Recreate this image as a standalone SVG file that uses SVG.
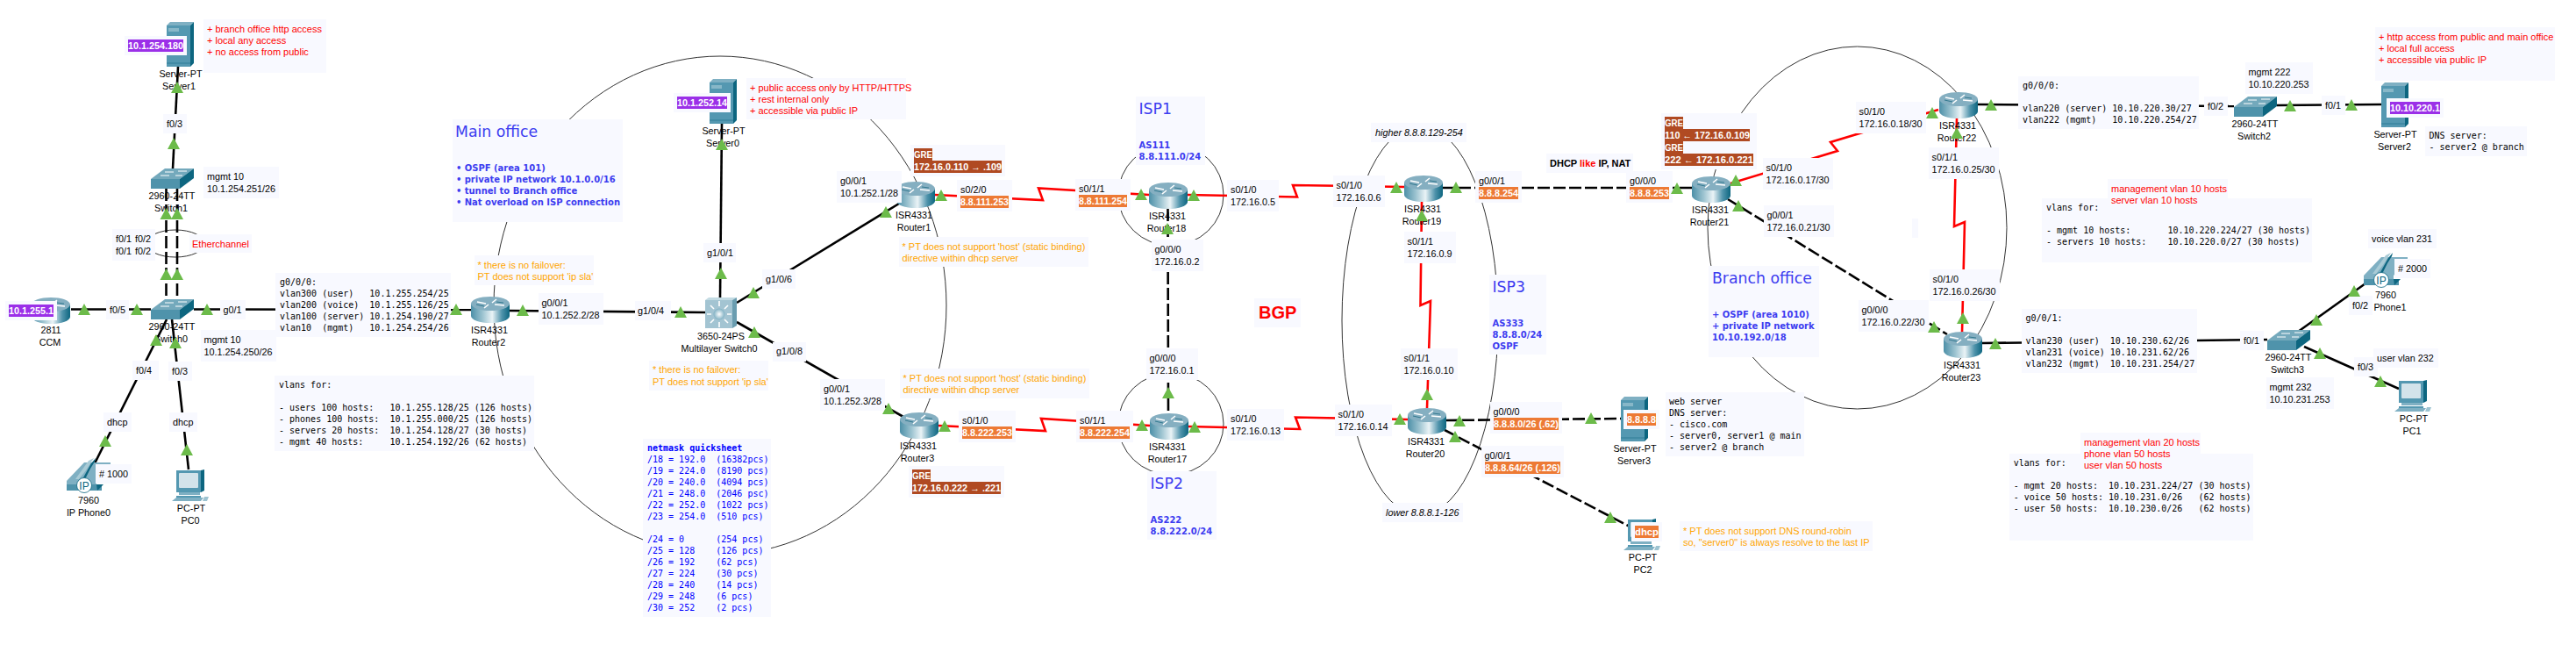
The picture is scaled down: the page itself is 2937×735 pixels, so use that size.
<svg xmlns="http://www.w3.org/2000/svg" width="2937" height="735" viewBox="0 0 2937 735">
<style>
text{white-space:pre}
.b{fill:#f8f9ff}
.l{font:10.8px "Liberation Sans",Arial,sans-serif;fill:#000}
.c{font:10.8px "Liberation Sans",Arial,sans-serif;fill:#000;text-anchor:middle}
.i{font:italic 10.8px "Liberation Sans",Arial,sans-serif;fill:#000}
.r{font:11px "Liberation Sans",Arial,sans-serif;fill:#f00}
.o{font:11px "Liberation Sans",Arial,sans-serif;fill:#ffa500}
.m{font:10px "DejaVu Sans Mono",monospace;fill:#000}
.n{font:10px "DejaVu Sans Mono",monospace;fill:#00f}
.nb{font:bold 10px "DejaVu Sans Mono",monospace;fill:#00f}
.w{font:bold 11px "Liberation Sans",Arial,sans-serif;fill:#fff}
.t{font:17.3px "DejaVu Sans",sans-serif;fill:#3c3cf0}
.s{font:bold 10px "DejaVu Sans",sans-serif;fill:#3c3cf0}
.d{font:bold 11px "Liberation Sans",Arial,sans-serif;fill:#000}
.hp{fill:#9b30e8}.ho{fill:#ed7a35}.hb{fill:#b04a22}
.k{fill:none;stroke:#000;stroke-width:2.6}
.kd{fill:none;stroke:#000;stroke-width:2.6;stroke-dasharray:14 4}
.sr{fill:none;stroke:#f00;stroke-width:2.6}
.e{fill:none;stroke:#333;stroke-width:1}
</style>
<defs>
<linearGradient id="cyl" x1="0" x2="1" y1="0" y2="0"><stop offset="0" stop-color="#4d90a8"/><stop offset=".3" stop-color="#9cc3d0"/><stop offset=".55" stop-color="#eaf3f6"/><stop offset=".8" stop-color="#4f93ab"/><stop offset="1" stop-color="#0d6680"/></linearGradient>
<radialGradient id="orb"><stop offset="0" stop-color="#fff"/><stop offset="1" stop-color="#7fb0c3"/></radialGradient>
<polygon id="tri" points="0,0 -7,13 7,13" fill="#6cbb4a"/>
<g id="router">
<path d="M0 8V22A22 8 0 0 0 44 22V8Z" fill="url(#cyl)"/>
<ellipse cx="22" cy="8" rx="22" ry="8" fill="#85afc1"/>
<path d="M7 6L17 8M27 9L38 10M15 13L20 9M24 7L29 3" fill="none" stroke="#fff" stroke-width="1.6"/>
<path d="M6 9L15 11M29 6L37 7" fill="none" stroke="#1d6a82" stroke-width=".8"/>
</g>
<g id="switch">
<polygon points="0,12 16,0 49,0 33,12" fill="#74a9bc"/>
<rect x="0" y="12" width="33" height="11" fill="#4f93ab"/>
<polygon points="33,12 49,0 49,11 33,23" fill="#0d6680"/>
<path d="M16 4H26M31 3H41M11 8H21M28 8H36" stroke="#fff" stroke-width="1"/>
</g>
<g id="server">
<polygon points="0,4 4,0 31,0 27,4" fill="#7fb0c3"/>
<rect x="0" y="4" width="27" height="47" fill="#5498b1"/>
<polygon points="27,4 31,0 31,47 27,51" fill="#0d6680"/>
<rect x="2" y="7" width="12" height="4" fill="#87b7c8"/>
<path d="M0 47H27" stroke="#2f7d97" stroke-width="1"/>
</g>
<g id="pc">
<rect x="5" y="1" width="28" height="25" fill="#5498b1"/>
<polygon points="33,1 37,0 37,24 33,26" fill="#0d6680"/>
<rect x="8" y="4" width="22" height="17" rx="1" fill="#d3e3ea"/>
<rect x="8" y="26" width="24" height="3" fill="#7fb0c3"/>
<polygon points="5,30 33,30 33,32 5,32" fill="#5498b1"/>
<polygon points="0,36 5,32 36,32 33,36" fill="#7fb0c3"/>
<path d="M36 36L39 30H44" fill="none" stroke="#fff" stroke-width="1"/>
<polygon points="35,36 37,31 42,31 40,36" fill="#9dc3d1"/>
</g>
<g id="phone">
<polygon points="0,26 20,5 50,5 50,9 34,26 34,37 0,37" fill="#7fb0c3"/>
<polygon points="18,24 28,6 33,0 32,4 27,12 21,24" fill="#0d6680"/>
<polygon points="10,24 25,3 31,0 22,14 14,24" fill="#a9cbd6"/>
<rect x="0" y="30" width="40" height="7" fill="#4f93ab"/>
<polygon points="35,37 42,30 34,30" fill="#0d6680"/>
<circle cx="20" cy="31" r="8.500" fill="#fff" stroke="#0d6680" stroke-width=".8"/>
<text x="20" y="36" font-family="Liberation Sans,sans-serif" font-size="12" text-anchor="middle" fill="#0d6680">IP</text>
</g>
<g id="mls">
<polygon points="0,3 4,0 36,0 31,3" fill="#c3dbe3"/>
<rect x="0" y="3" width="31" height="32" fill="#a3c4d2"/>
<polygon points="31,3 36,0 36,32 31,35" fill="#6a9db0"/>
<circle cx="16" cy="19" r="6.500" fill="url(#orb)"/>
<path d="M16 10V4M16 28V34M7 19H2M25 19H30M10 13L6 9M22 13L26 9M10 25L6 29M22 25L26 29" stroke="#fff" stroke-width="1.6"/>
</g>
</defs>
<rect width="2937" height="735" fill="#fff"/>

<g id="areas">
<ellipse class="e" cx="821" cy="348" rx="258" ry="284"/>
<ellipse class="e" cx="1335" cy="222" rx="60" ry="58"/>
<ellipse class="e" cx="1335" cy="483" rx="60" ry="58"/>
<ellipse class="e" cx="1619" cy="365" rx="89" ry="222"/>
<ellipse class="e" cx="2117.500" cy="259.500" rx="170.500" ry="206.500"/>
<ellipse class="e" cx="200" cy="277.500" rx="33" ry="15.500"/>
</g>

<g id="connectors">
<path class="k" d="M203 76L197 192"/>
<path class="kd" d="M189.500 215V341"/>
<path class="kd" d="M202 215V341"/>
<path class="k" d="M81 352.500H172"/>
<path class="k" d="M221 352.500L537 353"/>
<path class="k" d="M190 364L108 528"/>
<path class="k" d="M196 364L215 535"/>
<path class="k" d="M581 354L804 356"/>
<path class="k" d="M823 141L821 340"/>
<path class="k" d="M840 345L1025 232"/>
<path class="k" d="M840 367L1030 475"/>
<path class="sr" d="M1066 222L1189 228L1184 214.500L1310 222"/>
<path class="sr" d="M1070 485L1192 491L1187 477L1311 485"/>
<path class="kd" d="M1331.500 238L1332 471"/>
<path class="sr" d="M1354 222L1479 224.500L1474 211L1601 213"/>
<path class="sr" d="M1355 486L1482 489L1477 475.500L1605 478"/>
<path class="sr" d="M1621 230L1619.500 348L1631 343L1627 465"/>
<path class="kd" d="M1645 214H1929"/>
<path class="kd" d="M1649 479L1848 477"/>
<path class="kd" d="M1647 490L1858 600"/>
<path class="sr" d="M1973 209L2095 172L2087 162L2210 125"/>
<path class="kd" d="M1970 227L2220 381"/>
<path class="sr" d="M2231 135L2228 258L2240 253L2237 380"/>
<path class="k" d="M2255 119L2547 121"/>
<path class="k" d="M2596 120L2715 119"/>
<path class="k" d="M2260 391L2585 387"/>
<path class="k" d="M2620 378L2697 323"/>
<path class="k" d="M2627 395L2735 443"/>
</g>

<g id="server1"><use href="#server" x="190" y="25"/><rect class="b" x="142" y="41" width="71" height="22"/><rect class="hp" x="146" y="45" width="63" height="14"/><text class="w" x="146" y="56" textLength="63" lengthAdjust="spacingAndGlyphs">10.1.254.180</text><text class="c" x="206" y="88">Server-PT</text><text class="c" x="204" y="102">Server1</text></g>
<g id="switch1"><use href="#switch" x="172" y="192"/><text class="c" x="196" y="227">2960-24TT</text><text class="c" x="195" y="241">Switch1</text></g>
<g id="switch0"><use href="#switch" x="172" y="341"/><text class="c" x="196" y="376">2960-24TT</text><text class="c" x="195" y="390">Switch0</text></g>
<g id="ccm"><use href="#router" x="36" y="339"/><rect class="b" x="6" y="343" width="59" height="22"/><rect class="hp" x="10" y="347" width="51" height="14"/><text class="w" x="10" y="358" textLength="51" lengthAdjust="spacingAndGlyphs">10.1.255.1</text><text class="c" x="58" y="380">2811</text><text class="c" x="57" y="394">CCM</text></g>
<g id="phone0"><use href="#phone" x="76" y="522"/><rect class="b" x="109" y="529" width="41" height="22"/><text class="l" x="113" y="544"># 1000</text><text class="c" x="101" y="574">7960</text><text class="c" x="101" y="588">IP Phone0</text></g>
<g id="pc0"><use href="#pc" x="196" y="535"/><text class="c" x="218" y="583">PC-PT</text><text class="c" x="217" y="597">PC0</text></g>
<g id="router2"><use href="#router" x="537" y="338"/><text class="c" x="558" y="380">ISR4331</text><text class="c" x="557" y="394">Router2</text></g>
<g id="mlswitch0"><use href="#mls" x="804" y="339"/><text class="c" x="822" y="387">3650-24PS</text><text class="c" x="820" y="401">Multilayer Switch0</text></g>
<g id="server0"><use href="#server" x="809" y="90"/><rect class="b" x="768" y="106" width="65" height="22"/><rect class="hp" x="772" y="110" width="57" height="14"/><text class="w" x="772" y="121" textLength="57" lengthAdjust="spacingAndGlyphs">10.1.252.14</text><text class="c" x="825" y="153">Server-PT</text><text class="c" x="824" y="167">Server0</text></g>
<g id="router1"><use href="#router" x="1022" y="207"/><text class="c" x="1042" y="249">ISR4331</text><text class="c" x="1042" y="263">Router1</text></g>
<g id="router3"><use href="#router" x="1026" y="470"/><text class="c" x="1047" y="512">ISR4331</text><text class="c" x="1046" y="526">Router3</text></g>
<g id="router18"><use href="#router" x="1310" y="208"/><text class="c" x="1331" y="250">ISR4331</text><text class="c" x="1330" y="264">Router18</text></g>
<g id="router17"><use href="#router" x="1311" y="471"/><text class="c" x="1331" y="513">ISR4331</text><text class="c" x="1331" y="527">Router17</text></g>
<g id="router19"><use href="#router" x="1601" y="200"/><text class="c" x="1622" y="242">ISR4331</text><text class="c" x="1621" y="256">Router19</text></g>
<g id="router20"><use href="#router" x="1605" y="465"/><text class="c" x="1626" y="507">ISR4331</text><text class="c" x="1625" y="521">Router20</text></g>
<g id="server3"><use href="#server" x="1848" y="452"/><rect class="b" x="1851" y="467" width="41" height="22"/><rect class="ho" x="1855" y="471" width="33" height="14"/><text class="w" x="1855" y="482" textLength="33" lengthAdjust="spacingAndGlyphs">8.8.8.8</text><text class="c" x="1864" y="515">Server-PT</text><text class="c" x="1863" y="529">Server3</text></g>
<g id="pc2"><use href="#pc" x="1851" y="591"/><rect class="b" x="1860" y="595" width="35" height="22"/><rect class="ho" x="1864" y="599" width="27" height="14"/><text class="w" x="1864" y="610" textLength="27" lengthAdjust="spacingAndGlyphs">dhcp</text><text class="c" x="1873" y="639">PC-PT</text><text class="c" x="1873" y="653">PC2</text></g>
<g id="router21"><use href="#router" x="1929" y="201"/><text class="c" x="1950" y="243">ISR4331</text><text class="c" x="1949" y="257">Router21</text></g>
<g id="router22"><use href="#router" x="2211" y="105"/><text class="c" x="2232" y="147">ISR4331</text><text class="c" x="2231" y="161">Router22</text></g>
<g id="router23"><use href="#router" x="2216" y="378"/><text class="c" x="2237" y="420">ISR4331</text><text class="c" x="2236" y="434">Router23</text></g>
<g id="switch2"><use href="#switch" x="2547" y="110"/><text class="c" x="2571" y="145">2960-24TT</text><text class="c" x="2570" y="159">Switch2</text></g>
<g id="server2"><use href="#server" x="2715" y="94"/><rect class="b" x="2721" y="112" width="65" height="22"/><rect class="hp" x="2725" y="116" width="57" height="14"/><text class="w" x="2725" y="127" textLength="57" lengthAdjust="spacingAndGlyphs">10.10.220.1</text><text class="c" x="2731" y="157">Server-PT</text><text class="c" x="2730" y="171">Server2</text></g>
<g id="switch3"><use href="#switch" x="2585" y="376"/><text class="c" x="2609" y="411">2960-24TT</text><text class="c" x="2608" y="425">Switch3</text></g>
<g id="phone1"><use href="#phone" x="2695" y="288"/><rect class="b" x="2730" y="295" width="41" height="22"/><text class="l" x="2734" y="310"># 2000</text><text class="c" x="2720" y="340">7960</text><text class="c" x="2725" y="354">Phone1</text></g>
<g id="pc1"><use href="#pc" x="2730" y="433"/><text class="c" x="2752" y="481">PC-PT</text><text class="c" x="2750" y="495">PC1</text></g>

<g id="labels">
<rect class="b" x="186" y="130" width="27" height="22"/><text class="l" x="190" y="145">f0/3</text>
<rect class="b" x="128" y="261" width="49" height="36"/><text class="l" x="132" y="276">f0/1</text><text class="l" x="154" y="276">f0/2</text><text class="l" x="132" y="290">f0/1</text><text class="l" x="154" y="290">f0/2</text>
<rect class="b" x="121" y="342" width="26" height="22"/><text class="l" x="125" y="357">f0/5</text>
<rect class="b" x="251" y="342" width="29" height="22"/><text class="l" x="254.500" y="357">g0/1</text>
<rect class="b" x="151" y="411" width="30" height="22"/><text class="l" x="155" y="426">f0/4</text>
<rect class="b" x="192" y="412" width="27" height="22"/><text class="l" x="196" y="427">f0/3</text>
<rect class="b" x="118" y="470" width="32" height="22"/><text class="l" x="122" y="485">dhcp</text>
<rect class="b" x="193" y="470" width="32" height="22"/><text class="l" x="197" y="485">dhcp</text>
<rect class="b" x="232" y="190" width="86" height="36"/><text class="l" x="236" y="205">mgmt 10</text><text class="l" x="236" y="219">10.1.254.251/26</text>
<rect class="b" x="229" y="376" width="86" height="36"/><text class="l" x="232.500" y="391">mgmt 10</text><text class="l" x="232.500" y="405">10.1.254.250/26</text>
<rect class="b" x="614" y="334" width="74" height="36"/><text class="l" x="617.500" y="349">g0/0/1</text><text class="l" x="617.500" y="363">10.1.252.2/28</text>
<rect class="b" x="724" y="343" width="41" height="22"/><text class="l" x="727" y="358">g1/0/4</text>
<rect class="b" x="802" y="277" width="37" height="22"/><text class="l" x="806" y="292">g1/0/1</text>
<rect class="b" x="869" y="307" width="38" height="22"/><text class="l" x="873" y="322">g1/0/6</text>
<rect class="b" x="881" y="390" width="38" height="22"/><text class="l" x="885" y="404">g1/0/8</text>
<rect class="b" x="954" y="195" width="74" height="36"/><text class="l" x="958" y="210">g0/0/1</text><text class="l" x="958" y="224">10.1.252.1/28</text>
<rect class="b" x="935" y="432" width="74" height="36"/><text class="l" x="939" y="447">g0/0/1</text><text class="l" x="939" y="461">10.1.252.3/28</text>
<rect class="b" x="1091" y="205" width="63" height="36"/><text class="l" x="1095" y="220">s0/2/0</text><rect class="ho" x="1095" y="223" width="55" height="14"/><text class="w" x="1095" y="234" textLength="55" lengthAdjust="spacingAndGlyphs">8.8.111.253</text>
<rect class="b" x="1226" y="204" width="63" height="36"/><text class="l" x="1230" y="219">s0/1/1</text><rect class="ho" x="1230" y="222" width="55" height="14"/><text class="w" x="1230" y="233" textLength="55" lengthAdjust="spacingAndGlyphs">8.8.111.254</text>
<rect class="b" x="1093" y="468" width="65" height="36"/><text class="l" x="1097" y="483">s0/1/0</text><rect class="ho" x="1097" y="486" width="57" height="14"/><text class="w" x="1097" y="497" textLength="57" lengthAdjust="spacingAndGlyphs">8.8.222.253</text>
<rect class="b" x="1227" y="468" width="65" height="36"/><text class="l" x="1231" y="483">s0/1/1</text><rect class="ho" x="1231" y="486" width="57" height="14"/><text class="w" x="1231" y="497" textLength="57" lengthAdjust="spacingAndGlyphs">8.8.222.254</text>
<rect class="b" x="1399" y="205" width="59" height="36"/><text class="l" x="1403" y="220">s0/1/0</text><text class="l" x="1403" y="234">172.16.0.5</text>
<rect class="b" x="1313" y="273" width="59" height="36"/><text class="l" x="1316.500" y="288">g0/0/0</text><text class="l" x="1316.500" y="302">172.16.0.2</text>
<rect class="b" x="1307" y="397" width="59" height="36"/><text class="l" x="1310.500" y="412">g0/0/0</text><text class="l" x="1310.500" y="426">172.16.0.1</text>
<rect class="b" x="1399" y="466" width="65" height="36"/><text class="l" x="1403" y="481">s0/1/0</text><text class="l" x="1403" y="495">172.16.0.13</text>
<rect class="b" x="1520" y="200" width="59" height="36"/><text class="l" x="1523.500" y="215">s0/1/0</text><text class="l" x="1523.500" y="229">172.16.0.6</text>
<rect class="b" x="1601" y="264" width="59" height="36"/><text class="l" x="1604.500" y="279">s0/1/1</text><text class="l" x="1604.500" y="293">172.16.0.9</text>
<rect class="b" x="1597" y="397" width="65" height="36"/><text class="l" x="1600.500" y="412">s0/1/1</text><text class="l" x="1600.500" y="426">172.16.0.10</text>
<rect class="b" x="1522" y="461" width="65" height="36"/><text class="l" x="1525.500" y="476">s0/1/0</text><text class="l" x="1525.500" y="490">172.16.0.14</text>
<rect class="b" x="1682" y="195" width="53" height="36"/><text class="l" x="1686" y="210">g0/0/1</text><rect class="ho" x="1686" y="213" width="45" height="14"/><text class="w" x="1686" y="224" textLength="45" lengthAdjust="spacingAndGlyphs">8.8.8.254</text>
<rect class="b" x="1854" y="195" width="53" height="36"/><text class="l" x="1858" y="210">g0/0/0</text><rect class="ho" x="1858" y="213" width="45" height="14"/><text class="w" x="1858" y="224" textLength="45" lengthAdjust="spacingAndGlyphs">8.8.8.253</text>
<rect class="b" x="1699" y="458" width="82" height="36"/><text class="l" x="1702.500" y="473">g0/0/0</text><rect class="ho" x="1703" y="476" width="74" height="14"/><text class="w" x="1703" y="487" textLength="74" lengthAdjust="spacingAndGlyphs">8.8.8.0/26 (.62)</text>
<rect class="b" x="1689" y="508" width="94" height="36"/><text class="l" x="1692.500" y="523">g0/0/1</text><rect class="ho" x="1693" y="526" width="86" height="14"/><text class="w" x="1693" y="537" textLength="86" lengthAdjust="spacingAndGlyphs">8.8.8.64/26 (.126)</text>
<rect class="b" x="2010" y="180" width="80" height="36"/><text class="l" x="2013.500" y="195">s0/1/0</text><text class="l" x="2013.500" y="209">172.16.0.17/30</text>
<rect class="b" x="2011" y="234" width="80" height="36"/><text class="l" x="2014.500" y="249">g0/0/1</text><text class="l" x="2014.500" y="263">172.16.0.21/30</text>
<rect class="b" x="2116" y="116" width="80" height="36"/><text class="l" x="2119.500" y="131">s0/1/0</text><text class="l" x="2119.500" y="145">172.16.0.18/30</text>
<rect class="b" x="2199" y="168" width="80" height="36"/><text class="l" x="2202.500" y="183">s0/1/1</text><text class="l" x="2202.500" y="197">172.16.0.25/30</text>
<rect class="b" x="2200" y="307" width="80" height="36"/><text class="l" x="2203.500" y="322">s0/1/0</text><text class="l" x="2203.500" y="336">172.16.0.26/30</text>
<rect class="b" x="2119" y="342" width="80" height="36"/><text class="l" x="2122.500" y="357">g0/0/0</text><text class="l" x="2122.500" y="371">172.16.0.22/30</text>
<rect class="b" x="2180" y="249" width="7" height="22"/>
<rect class="b" x="2513" y="110" width="27" height="22"/><text class="l" x="2517" y="125">f0/2</text>
<rect class="b" x="2647" y="109" width="27" height="22"/><text class="l" x="2651" y="124">f0/1</text>
<rect class="b" x="2560" y="71" width="77" height="36"/><text class="l" x="2563.500" y="86">mgmt 222</text><text class="l" x="2563.500" y="100">10.10.220.253</text>
<rect class="b" x="2554" y="377" width="27" height="22"/><text class="l" x="2558" y="392">f0/1</text>
<rect class="b" x="2678" y="337" width="27" height="22"/><text class="l" x="2682" y="352">f0/2</text>
<rect class="b" x="2684" y="407" width="27" height="22"/><text class="l" x="2688" y="422">f0/3</text>
<rect class="b" x="2584" y="430" width="77" height="36"/><text class="l" x="2587.500" y="445">mgmt 232</text><text class="l" x="2587.500" y="459">10.10.231.253</text>
<rect class="b" x="2700" y="261" width="78" height="22"/><text class="l" x="2704" y="276">voice vlan 231</text>
<rect class="b" x="2706" y="397" width="74" height="22"/><text class="l" x="2710" y="412">user vlan 232</text>
<rect class="b" x="1563" y="140" width="109" height="22"/><text class="i" x="1568" y="155">higher 8.8.8.129-254</text>
<rect class="b" x="1576" y="573" width="92" height="22"/><text class="i" x="1580" y="588">lower 8.8.8.1-126</text>
<rect class="b" x="1763" y="175" width="99" height="22"/><text class="d" x="1767" y="190">DHCP <tspan fill="#f00">like</tspan> IP, NAT</text>
<rect class="b" x="1430" y="340" width="53" height="33"/><text x="1435" y="363" font-family="Liberation Sans,Arial,sans-serif" font-weight="bold" font-size="20" fill="#f00">BGP</text>
</g>

<g id="notes">
<rect class="b" x="232" y="22" width="140" height="61"/><text class="r" x="236" y="37">+ branch office http access</text><text class="r" x="236" y="50">+ local any access</text><text class="r" x="236" y="63">+ no access from public</text>
<rect class="b" x="216" y="267" width="71" height="21"/><text class="r" x="219" y="282">Etherchannel</text>
<rect class="b" x="851" y="89" width="182" height="47"/><text class="r" x="855" y="104">+ public access only by HTTP/HTTPS</text><text class="r" x="855" y="117">+ rest internal only</text><text class="r" x="855" y="130">+ accessible via public IP</text>
<rect class="b" x="516" y="136" width="194" height="117"/><text class="t" x="519" y="156">Main office</text><text class="s" x="520" y="195">•<tspan x="529.700">OSPF (area 101)</tspan></text><text class="s" x="520" y="208">•<tspan x="529.700">private IP network 10.1.0.0/16</tspan></text><text class="s" x="520" y="221">•<tspan x="529.700">tunnel to Branch office</tspan></text><text class="s" x="520" y="234">•<tspan x="529.700">Nat overload on ISP connection</tspan></text>
<rect class="b" x="541" y="291" width="136" height="34"/><text class="o" x="544.500" y="306">* there is no failover:</text><text class="o" x="544.500" y="319">PT does not support 'ip sla'</text>
<rect class="b" x="740" y="411" width="136" height="34"/><text class="o" x="744" y="425">* there is no failover:</text><text class="o" x="744" y="439">PT does not support 'ip sla'</text>
<rect class="b" x="1025" y="270" width="216" height="34"/><text class="o" x="1028.500" y="285">* PT does not support 'host' (static binding)</text><text class="o" x="1028.500" y="298">directive within dhcp server</text>
<rect class="b" x="1026" y="420" width="216" height="34"/><text class="o" x="1029.500" y="435">* PT does not support 'host' (static binding)</text><text class="o" x="1029.500" y="448">directive within dhcp server</text>
<rect class="b" x="1915" y="594" width="220" height="34"/><text class="o" x="1919" y="609">* PT does not support DNS round-robin</text><text class="o" x="1919" y="622">so, "server0" is always resolve to the last IP</text>
<rect class="b" x="1038" y="165" width="108" height="36"/><rect class="hb" x="1042" y="169" width="21" height="14"/><rect class="hb" x="1042" y="183" width="100" height="14"/><text class="w" x="1042" y="180" textLength="21" lengthAdjust="spacingAndGlyphs">GRE</text><text class="w" x="1042" y="194" textLength="100" lengthAdjust="spacingAndGlyphs">172.16.0.110 → .109</text>
<rect class="b" x="1036" y="531" width="109" height="36"/><rect class="hb" x="1040" y="535" width="21" height="14"/><rect class="hb" x="1040" y="549" width="101" height="14"/><text class="w" x="1040" y="546" textLength="21" lengthAdjust="spacingAndGlyphs">GRE</text><text class="w" x="1040" y="560" textLength="101" lengthAdjust="spacingAndGlyphs">172.16.0.222 → .221</text>
<rect class="b" x="1894" y="129" width="109" height="64"/><rect class="hb" x="1898" y="133" width="21" height="14"/><rect class="hb" x="1898" y="147" width="97" height="14"/><rect class="hb" x="1898" y="161" width="21" height="14"/><rect class="hb" x="1898" y="175" width="101" height="14"/><text class="w" x="1898" y="144" textLength="21" lengthAdjust="spacingAndGlyphs">GRE</text><text class="w" x="1898" y="158" textLength="97" lengthAdjust="spacingAndGlyphs">110 ← 172.16.0.109</text><text class="w" x="1898" y="172" textLength="21" lengthAdjust="spacingAndGlyphs">GRE</text><text class="w" x="1898" y="186" textLength="101" lengthAdjust="spacingAndGlyphs">222 ← 172.16.0.221</text>
<rect class="b" x="1295" y="110" width="79" height="78"/><text class="t" x="1298.500" y="130">ISP1</text><text class="s" x="1298.500" y="169">AS111</text><text class="s" x="1298.500" y="182">8.8.111.0/24</text>
<rect class="b" x="1308" y="537" width="79" height="78"/><text class="t" x="1311.500" y="557">ISP2</text><text class="s" x="1311.500" y="596">AS222</text><text class="s" x="1311.500" y="609">8.8.222.0/24</text>
<rect class="b" x="1698" y="313" width="65" height="91"/><text class="t" x="1701.500" y="333">ISP3</text><text class="s" x="1701.500" y="372">AS333</text><text class="s" x="1701.500" y="385">8.8.8.0/24</text><text class="s" x="1701.500" y="398">OSPF</text>
<rect class="b" x="1948" y="303" width="126" height="104"/><text class="t" x="1952" y="323">Branch office</text><text class="s" x="1952" y="362">+ OSPF (area 1010)</text><text class="s" x="1952" y="375">+ private IP network</text><text class="s" x="1952" y="388">10.10.192.0/18</text>
<rect class="b" x="314" y="311" width="200" height="73"/><text class="m" x="319" y="325">g0/0/0:</text><text class="m" x="319" y="338">vlan300 (user)   10.1.255.254/25</text><text class="m" x="319" y="351">vlan200 (voice)  10.1.255.126/25</text><text class="m" x="319" y="364">vlan100 (server) 10.1.254.190/27</text><text class="m" x="319" y="377">vlan10  (mgmt)   10.1.254.254/26</text>
<rect class="b" x="313" y="428" width="296" height="86"/><text class="m" x="318" y="442">vlans for:</text><text class="m" x="318" y="468">- users 100 hosts:   10.1.255.128/25 (126 hosts)</text><text class="m" x="318" y="481">- phones 100 hosts:  10.1.255.000/25 (126 hosts)</text><text class="m" x="318" y="494">- servers 20 hosts:  10.1.254.128/27 (30 hosts)</text><text class="m" x="318" y="507">- mgmt 40 hosts:     10.1.254.192/26 (62 hosts)</text>
<rect class="b" x="733" y="500" width="146" height="203"/><text class="nb" x="738" y="514">netmask quicksheet</text><text class="n" x="738" y="527">/18 = 192.0  (16382pcs)</text><text class="n" x="738" y="540">/19 = 224.0  (8190 pcs)</text><text class="n" x="738" y="553">/20 = 240.0  (4094 pcs)</text><text class="n" x="738" y="566">/21 = 248.0  (2046 psc)</text><text class="n" x="738" y="579">/22 = 252.0  (1022 pcs)</text><text class="n" x="738" y="592">/23 = 254.0  (510 pcs)</text><text class="n" x="738" y="618">/24 = 0      (254 pcs)</text><text class="n" x="738" y="631">/25 = 128    (126 pcs)</text><text class="n" x="738" y="644">/26 = 192    (62 pcs)</text><text class="n" x="738" y="657">/27 = 224    (30 pcs)</text><text class="n" x="738" y="670">/28 = 240    (14 pcs)</text><text class="n" x="738" y="683">/29 = 248    (6 pcs)</text><text class="n" x="738" y="696">/30 = 252    (2 pcs)</text>
<rect class="b" x="1899" y="447" width="158" height="73"/><text class="m" x="1903" y="461">web server</text><text class="m" x="1903" y="474">DNS server:</text><text class="m" x="1903" y="487">- cisco.com</text><text class="m" x="1903" y="500">- server0, server1 @ main</text><text class="m" x="1903" y="513">- server2 @ branch</text>
<rect class="b" x="2301" y="87" width="206" height="60"/><text class="m" x="2306" y="101">g0/0/0:</text><text class="m" x="2306" y="127">vlan220 (server) 10.10.220.30/27</text><text class="m" x="2306" y="140">vlan222 (mgmt)   10.10.220.254/27</text>
<rect class="b" x="2403" y="204" width="137" height="30"/>
<rect class="b" x="2328" y="226" width="308" height="73"/><text class="r" x="2407" y="219">management vlan 10 hosts</text><text class="r" x="2407" y="232">server vlan 10 hosts</text><text class="m" x="2333" y="240">vlans for:</text><text class="m" x="2333" y="266">- mgmt 10 hosts:       10.10.220.224/27 (30 hosts)</text><text class="m" x="2333" y="279">- servers 10 hosts:    10.10.220.0/27 (30 hosts)</text>
<rect class="b" x="2305" y="352" width="200" height="73"/><text class="m" x="2309.500" y="366">g0/0/1:</text><text class="m" x="2309.500" y="392">vlan230 (user)  10.10.230.62/26</text><text class="m" x="2309.500" y="405">vlan231 (voice) 10.10.231.62/26</text><text class="m" x="2309.500" y="418">vlan232 (mgmt)  10.10.231.254/27</text>
<rect class="b" x="2372" y="493" width="137" height="30"/>
<rect class="b" x="2291" y="517" width="278" height="99"/><text class="r" x="2376" y="508">management vlan 20 hosts</text><text class="r" x="2376" y="521">phone vlan 50 hosts</text><text class="r" x="2376" y="534">user vlan 50 hosts</text><text class="m" x="2295.700" y="531">vlans for:</text><text class="m" x="2295.700" y="557">- mgmt 20 hosts:  10.10.231.224/27 (30 hosts)</text><text class="m" x="2295.700" y="570">- voice 50 hosts: 10.10.231.0/26   (62 hosts)</text><text class="m" x="2295.700" y="583">- user 50 hosts:  10.10.230.0/26   (62 hosts)</text>
<rect class="b" x="2708" y="31" width="205" height="61"/><text class="r" x="2712" y="46">+ http access from public and main office</text><text class="r" x="2712" y="59">+ local full access</text><text class="r" x="2712" y="72">+ accessible via public IP</text>
<rect class="b" x="2765" y="144" width="116" height="34"/><text class="m" x="2769.500" y="158">DNS server:</text><text class="m" x="2769.500" y="171">- server2 @ branch</text>
</g>

<g id="link-lights">
<use href="#tri" x="202" y="93"/><use href="#tri" x="198" y="157"/><use href="#tri" x="189.500" y="237"/><use href="#tri" x="202" y="237"/><use href="#tri" x="189.500" y="306"/><use href="#tri" x="202" y="306"/><use href="#tri" x="96" y="346"/><use href="#tri" x="156" y="346"/><use href="#tri" x="236" y="346"/><use href="#tri" x="178" y="381"/><use href="#tri" x="200" y="384"/><use href="#tri" x="120" y="496"/><use href="#tri" x="213" y="506"/>
<use href="#tri" x="520" y="346"/><use href="#tri" x="596" y="347"/><use href="#tri" x="776" y="349"/><use href="#tri" x="823" y="158"/><use href="#tri" x="822" y="305"/><use href="#tri" x="859" y="327"/><use href="#tri" x="860" y="372"/><use href="#tri" x="1010" y="235"/><use href="#tri" x="1013" y="459"/>
<use href="#tri" x="1073" y="216"/><use href="#tri" x="1301" y="215"/><use href="#tri" x="1361" y="216"/><use href="#tri" x="1331" y="254"/><use href="#tri" x="1332" y="441"/><use href="#tri" x="1077" y="479"/><use href="#tri" x="1302" y="478"/><use href="#tri" x="1362" y="480"/>
<use href="#tri" x="1592" y="207"/><use href="#tri" x="1660" y="207"/><use href="#tri" x="1621" y="239"/><use href="#tri" x="1912" y="208"/><use href="#tri" x="1627" y="443"/><use href="#tri" x="1596" y="471"/><use href="#tri" x="1664" y="473"/><use href="#tri" x="1659" y="491"/><use href="#tri" x="1814" y="470"/><use href="#tri" x="1836" y="583"/>
<use href="#tri" x="1979" y="199"/><use href="#tri" x="1982" y="228"/><use href="#tri" x="2203" y="122"/><use href="#tri" x="2270" y="113"/><use href="#tri" x="2231" y="145"/><use href="#tri" x="2238" y="356"/><use href="#tri" x="2205" y="366"/><use href="#tri" x="2275" y="385"/><use href="#tri" x="2611" y="114"/><use href="#tri" x="2681" y="113"/><use href="#tri" x="2684" y="325"/><use href="#tri" x="2641" y="358"/><use href="#tri" x="2645" y="396"/><use href="#tri" x="2714" y="428"/>
</g>
</svg>
